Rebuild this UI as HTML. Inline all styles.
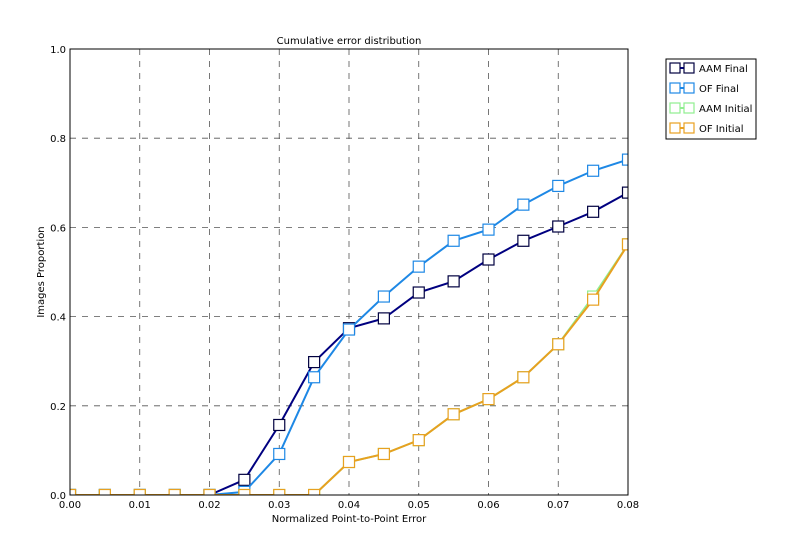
<!DOCTYPE html>
<html><head><meta charset="utf-8"><style>
body{margin:0;background:#fff;}
svg{display:block;font-family:"DejaVu Sans","Liberation Sans",sans-serif;}
</style></head><body>
<svg id="chart" width="792" height="560" viewBox="0 0 792 560" xmlns="http://www.w3.org/2000/svg">
<defs><clipPath id="plotclip"><rect x="70" y="49" width="558" height="446"/></clipPath></defs>
<rect width="792" height="560" fill="#fff"/>
<text x="349" y="44" font-size="10" text-anchor="middle">Cumulative error distribution</text>
<text x="349" y="522" font-size="10" text-anchor="middle">Normalized Point-to-Point Error</text>
<text transform="translate(44,272) rotate(-90)" font-size="10" text-anchor="middle">Images Proportion</text>
<g id="grid"></g>
<g id="series" clip-path="url(#plotclip)"></g>
<g id="ticks"></g>
<rect x="70" y="49" width="558" height="446" fill="none" stroke="#000" stroke-width="1"/>
<g id="legend">
<rect x="666" y="59" width="90" height="80" fill="#fff" stroke="#000" stroke-width="1"/>
</g>
</svg>
<script>
const xValues=[0,0.005,0.01,0.015,0.02,0.025,0.03,0.035,0.04,0.045,0.05,0.055,0.06,0.065,0.07,0.075,0.08];
const aamFinal=[0,0,0,0,0,0.034,0.157,0.298,0.374,0.396,0.454,0.479,0.528,0.570,0.602,0.635,0.678];
const ofFinal=[0,0,0,0,0,0.007,0.092,0.264,0.371,0.445,0.512,0.570,0.595,0.651,0.693,0.727,0.752];
const aamInitial=[0,0,0,0,0,0,0,0,0.074,0.092,0.123,0.181,0.215,0.264,0.338,0.445,0.562];
const ofInitial=[0,0,0,0,0,0,0,0,0.074,0.092,0.123,0.181,0.215,0.264,0.338,0.438,0.562];
const xTicks=[0,0.01,0.02,0.03,0.04,0.05,0.06,0.07,0.08];
const xTickLabels=["0.00","0.01","0.02","0.03","0.04","0.05","0.06","0.07","0.08"];
const yTicks=[0,0.2,0.4,0.6,0.8,1.0];
const yTickLabels=["0.0","0.2","0.4","0.6","0.8","1.0"];
const seriesNames=["AAM Final","OF Final","AAM Initial","OF Initial"];
const NS="http://www.w3.org/2000/svg";
const L=70,R=628,T=49,B=495;
const sx=v=>L+(v-0)/(0.08)*(R-L);
const sy=v=>B-v*(B-T);
function mk(tag,attrs,parent){const e=document.createElementNS(NS,tag);for(const k in attrs)e.setAttribute(k,attrs[k]);parent.appendChild(e);return e;}
const grid=document.getElementById('grid'),ticks=document.getElementById('ticks'),ser=document.getElementById('series'),leg=document.getElementById('legend');
xTicks.forEach((t,i)=>{
 const x=sx(t);
 if(i>0&&i<xTicks.length-1){const g=mk('line',{x1:x,x2:x,y1:T,y2:B,stroke:'#555','stroke-dasharray':'6,6','stroke-width':0.8},grid);
 }
 const tk=mk('text',{x:x,y:508,'font-size':10,'text-anchor':'middle'},ticks);tk.textContent=xTickLabels[i];
 
});
yTicks.forEach((t,i)=>{
 const y=sy(t);
 if(i>0&&i<yTicks.length-1){const g=mk('line',{x1:L,x2:R,y1:y,y2:y,stroke:'#555','stroke-dasharray':'6,6','stroke-width':0.8},grid);
 }
 const tk=mk('text',{x:66,y:y+4,'font-size':10,'text-anchor':'end'},ticks);tk.textContent=yTickLabels[i];
 
});
const allSeries=[aamFinal,ofFinal,aamInitial,ofInitial];
const colors=['#000080','#1e88e5','#90ee90','#e8a020'];
const markerColors=['#000040','#1e88e5','#90ee90','#e8a020'];
const keys=['aam-final','of-final','aam-initial','of-initial'];
allSeries.forEach((vals,s)=>{
 const g=mk('g',{},ser);
 
 const pts=vals.map((v,i)=>sx(xValues[i])+','+sy(v)).join(' ');
 const pl=mk('polyline',{points:pts,fill:'none',stroke:colors[s],'stroke-width':2},g);
 
 vals.forEach((v,i)=>{
  const m=mk('rect',{x:sx(xValues[i])-5.5,y:sy(v)-5.5,width:11,height:11,fill:'#fff',stroke:markerColors[s],'stroke-width':1.2},g);
  
 });
 const ly=68+s*20;
 const le=mk('g',{},leg);
 
 mk('line',{x1:674,x2:690,y1:ly,y2:ly,stroke:colors[s],'stroke-width':2},le);
 mk('rect',{x:670,y:ly-5,width:10,height:10,fill:'#fff',stroke:markerColors[s],'stroke-width':1.2},le);
 mk('rect',{x:684,y:ly-5,width:10,height:10,fill:'#fff',stroke:markerColors[s],'stroke-width':1.2},le);
 const t=mk('text',{x:699,y:ly+4,'font-size':10},le);t.textContent=seriesNames[s];
});
</script>
</body></html>
